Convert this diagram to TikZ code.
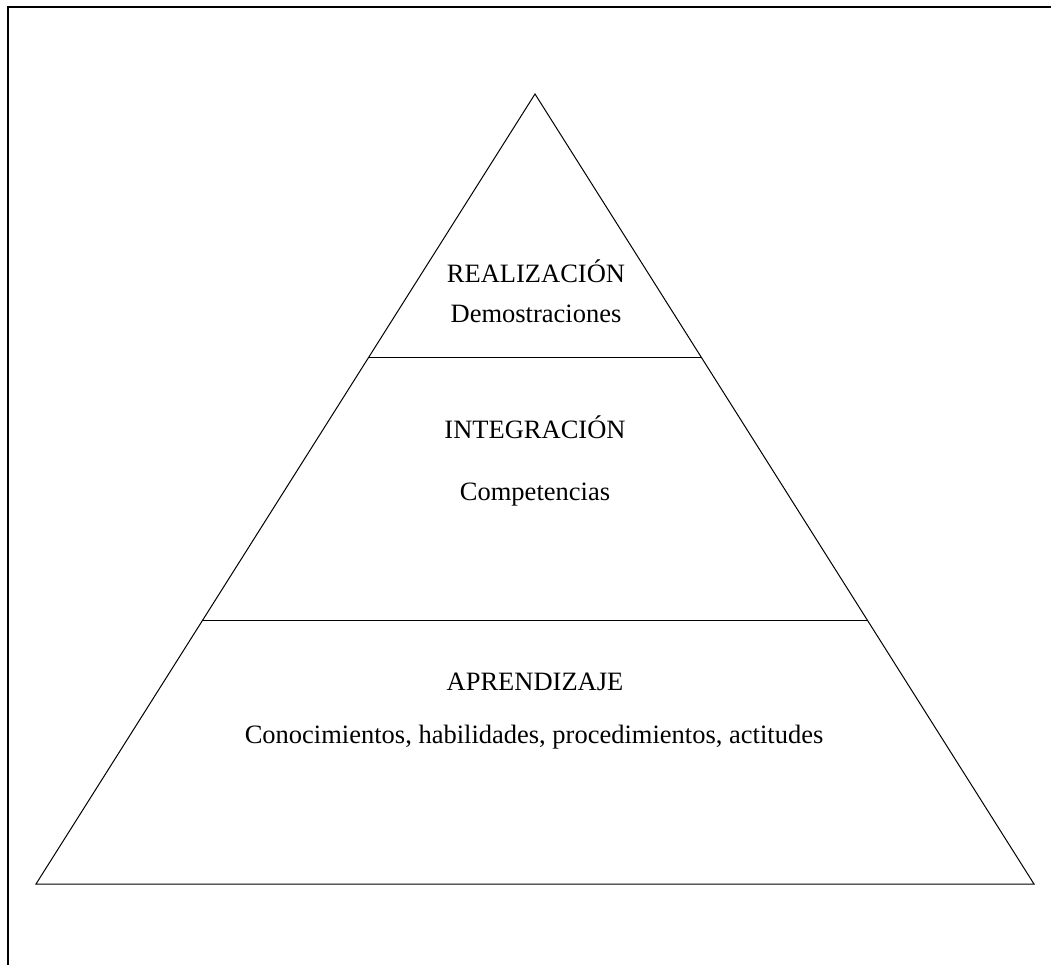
\documentclass[tikz,border=0pt]{standalone}
\usepackage{fontspec}
\setmainfont{Liberation Serif}
\usetikzlibrary{calc}
\begin{document}
\begin{tikzpicture}[x=1pt,y=-1pt,
  frameline/.style={line width=2pt,black},
  pyramidline/.style={line width=1pt,black},
  label/.style={anchor=base,inner sep=0pt,font=\fontsize{26.5}{30}\selectfont}]
\useasboundingbox (0,0) rectangle (1051,964);
% outer frame (left and top edges)
\draw[frameline] (8,970) -- (8,7) -- (1060,7);
% pyramid corners and level divisions
\coordinate (apex) at (535,94);
\coordinate (bl) at (36,884);
\coordinate (br) at (1034,884);
\coordinate (l1) at ($(bl)!1/3!(apex)$);
\coordinate (r1) at ($(br)!1/3!(apex)$);
\coordinate (l2) at ($(bl)!2/3!(apex)$);
\coordinate (r2) at ($(br)!2/3!(apex)$);
\draw[pyramidline] (bl) -- (apex) -- (br) -- cycle;
\draw[pyramidline] (l1) -- (r1);
\draw[pyramidline] (l2) -- (r2);
% level texts
\node[label] (real) at (536,282) {REALIZACIÓN};
\node[label] (demo) at (536,322) {Demostraciones};
\node[label] (integ) at (535,438) {INTEGRACIÓN};
\node[label] (comp) at (535,500) {Competencias};
\node[label] (apren) at (535,690) {APRENDIZAJE};
\node[label] (conoc) at (534,743) {Conocimientos, habilidades, procedimientos, actitudes};
\end{tikzpicture}
\end{document}
